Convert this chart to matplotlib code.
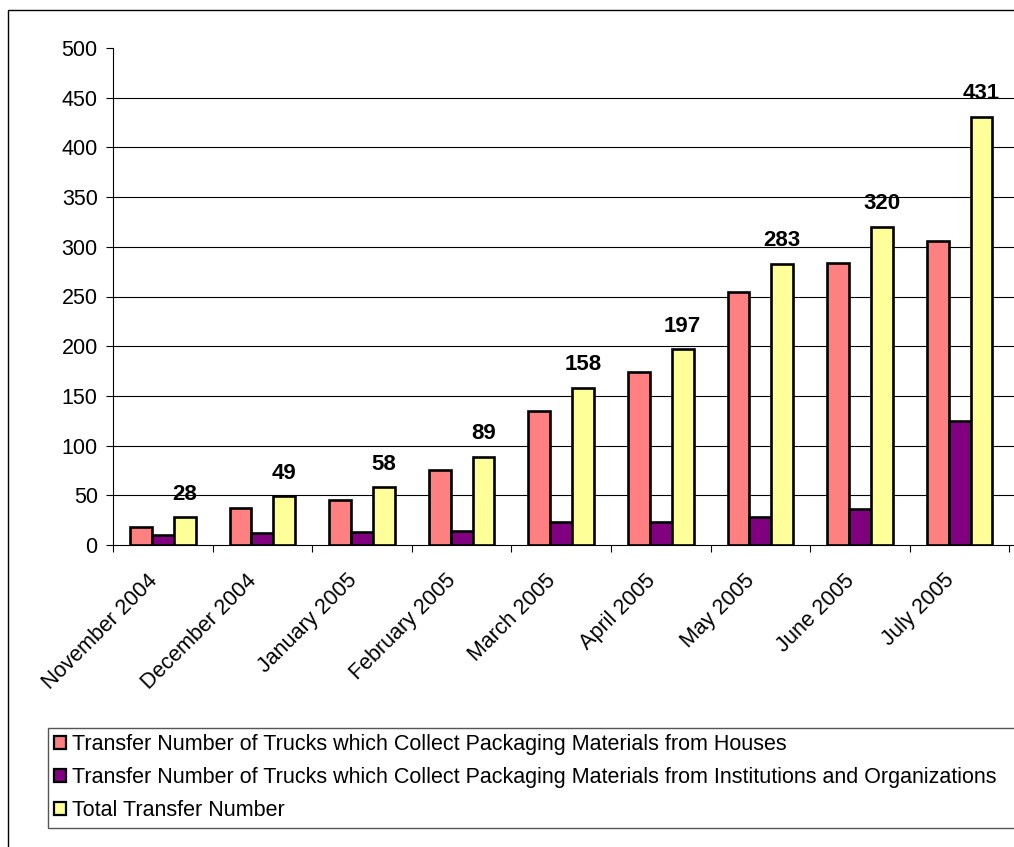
import matplotlib as mpl
import matplotlib.pyplot as plt
from matplotlib.patches import Rectangle
import numpy as np

mpl.rcParams.update({
    "font.family": ["Liberation Sans", "DejaVu Sans"],
    "font.size": 15.5,
})

MONTHS = ["November 2004", "December 2004", "January 2005", "February 2005",
          "March 2005", "April 2005", "May 2005", "June 2005", "July 2005"]
HOUSES = [18, 37, 45, 75, 135, 174, 255, 284, 306]
INSTITUTIONS = [10, 12, 13, 14, 23, 23, 28, 36, 125]
TOTAL = [28, 49, 58, 89, 158, 197, 283, 320, 431]

LABELS = ["Transfer Number of Trucks which Collect Packaging Materials from Houses",
          "Transfer Number of Trucks which Collect Packaging Materials from Institutions and Organizations",
          "Total Transfer Number"]
COLORS = ["#FF8080", "#800080", "#FFFF99"]

W, H = 1014, 847
fig = plt.figure(figsize=(W / 100, H / 100), dpi=100)

# outer chart border (cropped on the right and bottom)
fig.patches.append(Rectangle((8 / W, -0.1), 1.2, 1.1 - 10 / H, transform=fig.transFigure,
                             fill=False, edgecolor="#000000", linewidth=1.0))

ax = fig.add_axes([113 / W, 1 - 545 / H, (W - 113) / W, (545 - 48) / H])
x = np.arange(len(MONTHS))
bw = 0.22
for i, (vals, col, lab) in enumerate(zip([HOUSES, INSTITUTIONS, TOTAL], COLORS, LABELS)):
    ax.bar(x + (i - 1) * bw, vals, bw, color=col, edgecolor="black", linewidth=1.9,
           label=lab, zorder=3)

for xi, t in zip(x, TOTAL):
    ax.annotate(f"{t}", (xi + bw, t), xytext=(0, 9), textcoords="offset points",
                ha="center", va="bottom", fontweight="bold", fontsize=16)

group_px = 99.6
ax.set_xlim(-0.5, -0.5 + (W - 113) / group_px)
ax.set_ylim(0, 500)
ax.set_yticks(np.arange(0, 501, 50))
for yv in range(50, 451, 50):
    ax.axhline(yv, color="black", linewidth=0.8, zorder=1)

# labels sit a little left of the group centre, like the original
ax.set_xticks(x - 0.16)
ax.set_xticklabels(MONTHS, rotation=45, ha="right", va="top", rotation_mode="anchor")
ax.set_xticks(np.arange(-0.5, len(MONTHS)), minor=True)
ax.tick_params(axis="x", which="major", length=0, pad=18)
ax.tick_params(axis="x", which="minor", length=5, width=0.8, direction="out")
ax.tick_params(axis="y", length=5, width=0.8, direction="out", pad=6)

for s in ["top", "right"]:
    ax.spines[s].set_visible(False)
ax.spines["left"].set_linewidth(0.8)
ax.spines["bottom"].set_linewidth(0.8)

leg = fig.legend(loc="upper left", bbox_to_anchor=(48 / W, 16 / H, 1.2, (831 - 728) / H),
                 bbox_transform=fig.transFigure, mode="expand", fontsize=15.5,
                 handlelength=0.55, handleheight=0.55, handletextpad=0.25,
                 labelspacing=0.55, borderpad=0.3, borderaxespad=0,
                 fancybox=False, frameon=True, edgecolor="#555555", framealpha=1)
leg.get_frame().set_linewidth(1.0)
for h in leg.legend_handles:
    h.set_linewidth(1.6)

fig.savefig("out.png", dpi=100)
